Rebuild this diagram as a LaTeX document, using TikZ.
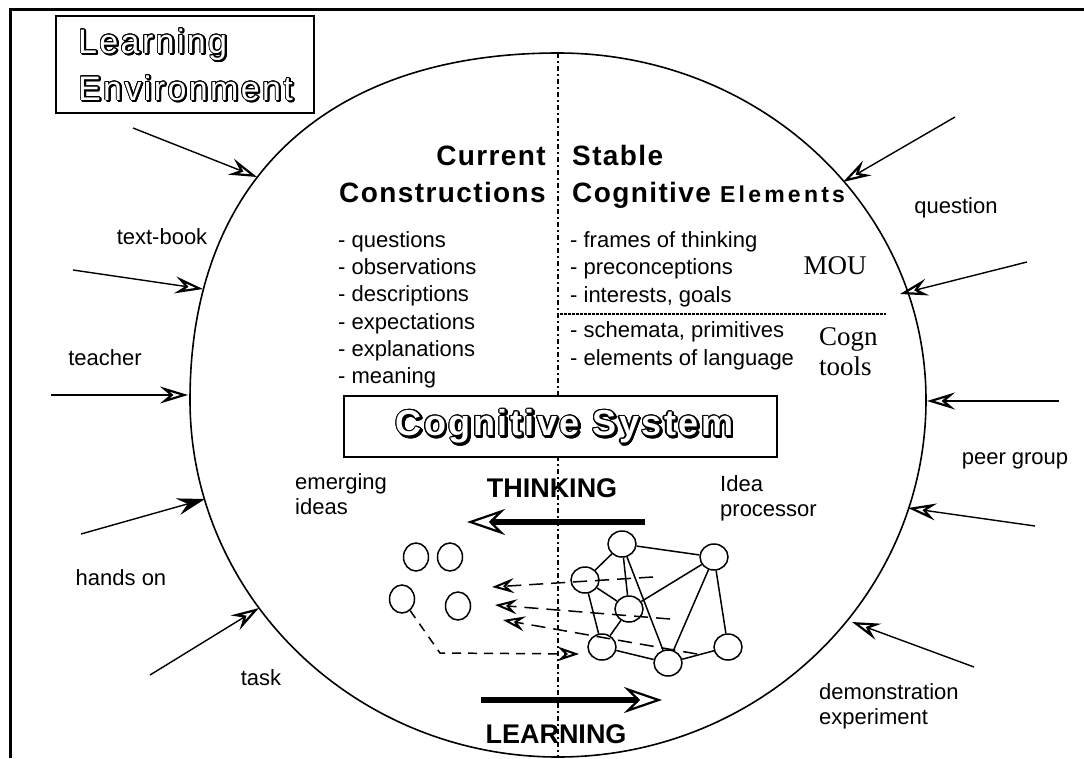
\documentclass[tikz,border=0pt]{standalone}
\usepackage{fontspec}
\setmainfont{Liberation Sans}
\newfontfamily\spaced[LetterSpace=5]{Liberation Sans}
\newfontfamily\hollowface[LetterSpace=7]{Liberation Sans}
\newfontfamily\romanface{Liberation Serif}
\usepackage{contour}
\contourlength{1.1pt}
\usetikzlibrary{arrows.meta,shapes.geometric}

\tikzset{
  body/.style={inner sep=0pt, font=\fontsize{22}{26}\selectfont},
  head/.style={inner sep=0pt, font=\spaced\bfseries\fontsize{28}{32}\selectfont},
  hollowthin/.style={inner sep=0pt, font=\hollowface\fontsize{34}{40}\selectfont\contourlength{0.8pt}},
  hollowbold/.style={inner sep=0pt, font=\hollowface\bfseries\fontsize{36}{42}\selectfont\contourlength{1.1pt}},
  caps/.style={inner sep=0pt, font=\bfseries\fontsize{27}{32}\selectfont},
  roman/.style={inner sep=0pt, font=\romanface\fontsize{27}{32}\selectfont},
  netnode/.style={ellipse, draw, line width=1.5pt, minimum width=28pt, minimum height=26pt, inner sep=0pt},
  ideanode/.style={ellipse, draw, line width=1.5pt, minimum width=25pt, minimum height=28pt, inner sep=0pt},
  link/.style={line width=1.5pt},
  inarrow/.style={line width=1.4pt, -{Stealth[open, length=28pt, width=17pt, inset=10pt, line width=2.2pt]}},
  inarrowfilled/.style={line width=1.4pt, -{Stealth[length=28pt, width=17pt, inset=10pt]}},
  bigarrow/.style={line width=6pt, -{Stealth[open, length=38pt, width=26pt, inset=13pt, line width=2.2pt]}},
  recall/.style={line width=1.5pt, dash pattern=on 14pt off 8pt, -{Stealth[open, length=22pt, width=15pt, inset=8pt, line width=2pt]}},
  grasp/.style={line width=1.5pt, dash pattern=on 9pt off 7pt, -{Stealth[open, length=22pt, width=15pt, inset=8pt, line width=2pt]}},
}

\begin{document}
\begin{tikzpicture}[x=1pt, y=-1pt]
\useasboundingbox (0,0) rectangle (1084,758);

% outer frame (open to the right and bottom)
\coordinate (fr-tr) at (1084,9);
\coordinate (fr-tl) at (10,9);
\coordinate (fr-bl) at (10,758);
\draw[line width=3pt] (fr-tr) -- (fr-tl) -- (fr-bl);

% the learner's cognitive system
\coordinate (sys-t) at (558,53);
\coordinate (sys-r) at (926,400);
\coordinate (sys-b) at (558,757);
\coordinate (sys-l) at (190,400);
\draw[line width=1.6pt]
  (sys-t) .. controls (761,53) and (926,208) .. (sys-r)
          .. controls (926,597) and (761,757) .. (sys-b)
          .. controls (355,757) and (190,597) .. (sys-l)
          .. controls (190,181) and (326,53) .. (sys-t) -- cycle;

% vertical divider
\coordinate (vd-bot) at (558,758);
\draw[line width=1.8pt, dash pattern=on 5pt off 3pt on 2pt off 3pt] (sys-t) -- (vd-bot);

% horizontal divider between MOU and cognitive tools
\coordinate (hd-l) at (560,314);
\coordinate (hd-r) at (886,314);
\draw[line width=2.5pt, dash pattern=on 2.5pt off 1.5pt] (hd-l) -- (hd-r);

% title box
\node[draw, line width=1.5pt, minimum width=258pt, minimum height=97pt, inner sep=0pt] (envbox) at (185,64.5) {};
\node[hollowthin, anchor=base west] (env1s) at (79.3,54.3) {\contour{black}{Learning}};
\node[hollowthin, anchor=base west] (env1) at (78,53) {\textcolor{white}{\contour{black}{Learning}}};
\node[hollowthin, anchor=base west] (env2s) at (79.3,101.3) {\contour{black}{Environment}};
\node[hollowthin, anchor=base west] (env2) at (78,100) {\textcolor{white}{\contour{black}{Environment}}};

% headings
\node[head, anchor=base east] (cur1) at (546,165) {Current};
\node[head, anchor=base east] (cur2) at (546,202) {Constructions};
\node[head, anchor=base west] (stab1) at (572,165) {Stable};
\node[head, anchor=base west] (stab2) at (572,202) {Cognitive {\addfontfeature{LetterSpace=14}\fontsize{23}{26}\selectfont Elements}};

% current constructions
\node[body, anchor=base west] (c1) at (338,247) {- questions};
\node[body, anchor=base west] (c2) at (338,274) {- observations};
\node[body, anchor=base west] (c3) at (338,301) {- descriptions};
\node[body, anchor=base west] (c4) at (338,329) {- expectations};
\node[body, anchor=base west] (c5) at (338,356) {- explanations};
\node[body, anchor=base west] (c6) at (338,383) {- meaning};

% stable cognitive elements
\node[body, anchor=base west] (s1) at (570,247) {- frames of thinking};
\node[body, anchor=base west] (s2) at (570,274) {- preconceptions};
\node[body, anchor=base west] (s3) at (570,302) {- interests, goals};
\node[body, anchor=base west] (s4) at (570,337) {- schemata, primitives};
\node[body, anchor=base west] (s5) at (570,365) {- elements of language};

\node[roman, anchor=base] (mou) at (835,274) {MOU};
\node[roman, anchor=base west] (cogn) at (819,345) {Cogn};
\node[roman, anchor=base west] (tools) at (819,375) {tools};

% cognitive system box
\node[draw, fill=white, line width=2pt, minimum width=433pt, minimum height=61pt, inner sep=0pt] (csbox) at (560.5,426.5) {};
\node[hollowbold, anchor=base] (cs-s) at (566,437) {\contour{black}{Cognitive System}};
\node[hollowbold, anchor=base] (cs) at (564.5,435.5) {\textcolor{white}{\contour{black}{Cognitive System}}};

% thinking / learning
\node[body, anchor=base west] (em1) at (295,489) {emerging};
\node[body, anchor=base west] (em2) at (295,514) {ideas};
\node[body, anchor=base west] (ip1) at (720,491) {Idea};
\node[body, anchor=base west] (ip2) at (720,516) {processor};
\node[caps, anchor=base] (think) at (552,497) {THINKING};
\node[caps, anchor=base] (learn) at (556,743) {LEARNING};

\coordinate (th-s) at (645,522);
\coordinate (th-e) at (467,522);
\draw[bigarrow] (th-s) -- (th-e);
\coordinate (le-s) at (481,700);
\coordinate (le-e) at (662,700);
\draw[bigarrow] (le-s) -- (le-e);

% emerging ideas
\node[ideanode] (i1) at (416,557) {};
\node[ideanode] (i2) at (450,557) {};
\node[ideanode] (i3) at (402,599) {};
\node[ideanode] (i4) at (458,606) {};

% idea processor network
\node[netnode] (na) at (622,544) {};
\node[netnode] (nb) at (714,557) {};
\node[netnode] (nc) at (585,580) {};
\node[netnode] (nd) at (629,609) {};
\node[netnode] (ne) at (602,647) {};
\node[netnode] (nf) at (668,663) {};
\node[netnode] (ng) at (728,647) {};
\draw[link] (na) -- (nb);
\draw[link] (na) -- (nc);
\draw[link] (na) -- (nd);
\draw[link] (na) -- (nf);
\draw[link] (nc) -- (nd);
\draw[link] (nc) -- (ne);
\draw[link] (nd) -- (ne);
\draw[link] (nd) -- (nb);
\draw[link] (nb) -- (nf);
\draw[link] (nb) -- (ng);
\draw[link] (ne) -- (nf);
\draw[link] (nf) -- (ng);

% ideas recalled from the network
\coordinate (r1s) at (653,577);
\coordinate (r1e) at (492,587);
\coordinate (r2s) at (670,619);
\coordinate (r2e) at (495,605);
\coordinate (r3s) at (697,654);
\coordinate (r3e) at (503,620);
\draw[recall] (r1s) -- (r1e);
\draw[recall] (r2s) -- (r2e);
\draw[recall] (r3s) -- (r3e);

% a new idea taken into the network
\coordinate (g-corner) at (440,653);
\coordinate (g-end) at (579,654);
\draw[grasp] (i3) -- (g-corner) -- (g-end);

% influences from the environment
\node[body, anchor=base] (lb-text) at (162,244) {text-book};
\node[body, anchor=base] (lb-teach) at (105,365) {teacher};
\node[body, anchor=base] (lb-hands) at (121,585) {hands on};
\node[body, anchor=base] (lb-task) at (261,685) {task};
\node[body, anchor=base] (lb-quest) at (956,213) {question};
\node[body, anchor=base] (lb-peer) at (1015,464) {peer group};
\node[body, anchor=base west] (lb-demo) at (819,699) {demonstration};
\node[body, anchor=base west] (lb-exp) at (819,724) {experiment};

\coordinate (o1s) at (133,128);  \coordinate (o1e) at (257,177);
\coordinate (o2s) at (73,270);   \coordinate (o2e) at (203,289);
\coordinate (o3s) at (51,395);   \coordinate (o3e) at (188,395);
\coordinate (o4s) at (81,534);   \coordinate (o4e) at (205,499);
\coordinate (o5s) at (150,675);  \coordinate (o5e) at (259,608);
\coordinate (o6s) at (955,117);  \coordinate (o6e) at (843,182);
\coordinate (o7s) at (1027,262); \coordinate (o7e) at (900,294);
\coordinate (o8s) at (1059,401); \coordinate (o8e) at (927,401);
\coordinate (o9s) at (1035,526); \coordinate (o9e) at (908,508);
\coordinate (o10s) at (974,667); \coordinate (o10e) at (852,622);
\draw[inarrow] (o1s) -- (o1e);
\draw[inarrow] (o2s) -- (o2e);
\draw[inarrow] (o3s) -- (o3e);
\draw[inarrowfilled] (o4s) -- (o4e);
\draw[inarrow] (o5s) -- (o5e);
\draw[inarrow] (o6s) -- (o6e);
\draw[inarrow] (o7s) -- (o7e);
\draw[inarrow] (o8s) -- (o8e);
\draw[inarrow] (o9s) -- (o9e);
\draw[inarrow] (o10s) -- (o10e);

\end{tikzpicture}
\end{document}
